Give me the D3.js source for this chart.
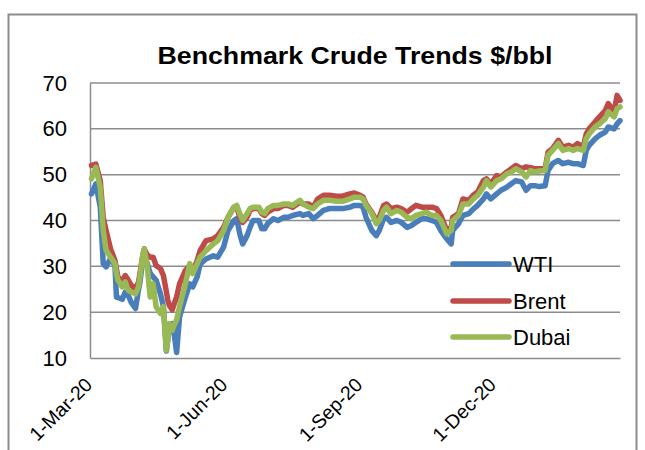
<!DOCTYPE html>
<html>
<head>
<meta charset="utf-8">
<script src="https://cdn.jsdelivr.net/npm/d3@7"></script>
<style>
  html, body { margin: 0; padding: 0; background: #fff; }
  svg { display: block; font-family: "Liberation Sans", Arial, sans-serif; }
</style>
</head>
<body>
<svg id="chart" width="645" height="450"></svg>
<script>
const dates = [
  "2020-03-02","2020-03-05","2020-03-08","2020-03-10","2020-03-12","2020-03-15","2020-03-18","2020-03-19","2020-03-20","2020-03-23",
  "2020-03-25","2020-03-27","2020-03-29","2020-04-01","2020-04-03","2020-04-04","2020-04-06","2020-04-07","2020-04-09","2020-04-11",
  "2020-04-13","2020-04-15","2020-04-18","2020-04-20","2020-04-22","2020-04-23","2020-04-24","2020-04-26","2020-04-27","2020-04-29",
  "2020-05-01","2020-05-05","2020-05-08","2020-05-10","2020-05-13","2020-05-15","2020-05-19","2020-05-24","2020-05-27","2020-05-31",
  "2020-06-03","2020-06-07","2020-06-09","2020-06-11","2020-06-13","2020-06-16","2020-06-18","2020-06-20","2020-06-24","2020-06-26",
  "2020-06-28","2020-06-30","2020-07-04","2020-07-07","2020-07-11","2020-07-14","2020-07-17","2020-07-22","2020-07-24","2020-07-28",
  "2020-07-31","2020-08-03","2020-08-07","2020-08-11","2020-08-16","2020-08-20","2020-08-25","2020-08-28","2020-09-01","2020-09-03",
  "2020-09-05","2020-09-09","2020-09-12","2020-09-14","2020-09-17","2020-09-19","2020-09-22","2020-09-26","2020-09-29","2020-10-03",
  "2020-10-06","2020-10-09","2020-10-13","2020-10-16","2020-10-20","2020-10-23","2020-10-26","2020-10-30","2020-11-02","2020-11-03",
  "2020-11-07","2020-11-10","2020-11-14","2020-11-17","2020-11-20","2020-11-24","2020-11-26","2020-11-29","2020-12-03","2020-12-06",
  "2020-12-10","2020-12-13","2020-12-16","2020-12-20","2020-12-23","2020-12-26","2020-12-29","2021-01-01","2021-01-05","2021-01-07",
  "2021-01-10","2021-01-14","2021-01-17","2021-01-21","2021-01-24","2021-01-27","2021-01-31","2021-02-02","2021-02-04","2021-02-08",
  "2021-02-11","2021-02-15","2021-02-17","2021-02-21","2021-02-23","2021-02-25"
];
const wti = [
  45.8,48.0,42.9,30.6,29.9,31.7,30.2,23.3,23.2,22.8,
  24.4,23.7,22.2,20.8,24.8,26.5,31.5,32.5,30.6,28.5,
  27.7,27.0,24.0,21.2,11.5,14.0,16.8,17.5,16.0,11.2,
  19.0,23.3,26.2,25.5,27.7,30.5,31.6,32.3,32.0,34.2,
  37.8,40.0,40.4,37.1,34.9,36.7,38.5,40.0,40.0,38.2,
  38.2,39.3,40.4,40.0,40.7,40.7,41.1,41.5,41.1,41.5,
  40.4,41.1,42.2,42.6,42.6,42.6,42.9,43.3,43.3,42.9,
  40.7,37.8,36.7,37.8,40.4,40.7,39.6,40.0,39.6,38.5,
  38.9,39.6,40.4,40.4,40.0,39.6,37.8,36.0,34.9,37.8,
  39.3,41.1,41.5,42.5,43.3,44.7,45.8,44.7,45.8,46.6,
  47.3,48.0,48.7,48.4,46.6,47.6,47.6,47.4,47.6,50.9,
  52.4,53.1,52.4,52.7,52.4,52.4,52.0,55.3,56.4,57.8,
  58.6,59.3,60.4,60.0,61.1,61.8
];
const brent = [
  52.0,52.3,48.7,40.7,37.8,33.8,31.3,29.5,27.7,26.6,
  28.0,27.0,25.9,25.1,26.5,28.4,32.5,33.8,32.5,32.0,
  32.0,30.2,29.5,28.0,24.5,22.6,21.5,20.5,21.5,23.3,
  26.2,29.1,30.2,28.8,31.3,33.4,35.6,36.0,36.7,38.5,
  40.7,42.9,42.9,40.7,39.6,40.7,42.2,42.6,42.6,41.5,
  41.1,41.8,42.6,42.6,43.3,43.3,42.9,44.0,43.6,43.6,
  42.9,44.7,45.5,45.5,45.3,45.3,45.8,46.0,45.5,45.1,
  43.6,41.8,40.0,40.7,43.3,43.6,42.6,42.9,42.6,41.8,
  42.6,43.3,42.9,42.9,42.9,42.6,41.1,37.8,38.5,40.7,
  41.5,44.7,44.4,45.5,46.2,48.7,49.1,48.0,49.8,49.5,
  50.6,51.3,52.0,51.3,51.7,51.5,51.3,51.3,51.3,54.9,
  55.7,57.5,56.0,56.4,56.0,56.8,56.0,58.9,60.0,61.5,
  62.6,64.0,65.5,63.7,67.3,66.2
];
const dubai = [
  49.1,51.6,47.2,37.8,33.5,32.0,30.6,28.5,27.0,25.5,
  26.6,24.8,24.4,24.0,25.5,27.7,32.5,33.8,29.9,23.3,
  26.2,21.2,19.7,21.2,11.7,14.0,17.5,16.0,17.0,18.3,
  21.2,26.2,30.6,28.4,30.6,32.0,33.4,34.9,35.6,37.8,
  40.7,42.9,43.3,41.5,40.0,41.5,42.6,42.9,42.9,41.8,
  41.5,42.6,43.3,43.3,43.6,43.6,43.3,44.4,43.6,42.9,
  42.6,43.6,44.4,44.4,44.2,44.2,44.7,45.1,45.1,44.7,
  43.3,41.5,39.3,40.0,42.2,42.9,41.5,42.2,41.8,40.7,
  40.4,41.1,41.5,41.8,41.1,41.1,40.0,37.1,37.8,40.0,
  41.1,43.6,43.6,44.7,45.5,47.3,48.7,47.3,48.7,49.1,
  50.2,50.6,51.3,50.6,49.5,50.9,50.6,50.8,50.9,54.2,
  55.3,56.8,55.3,55.7,55.3,55.7,55.3,57.8,58.9,60.4,
  61.1,62.2,63.7,62.6,64.4,64.8
];
const seriesNames = ["WTI", "Brent", "Dubai"];
const seriesColors = ["#4A7EBB", "#BE4B48", "#98B954"];
const yTicks = [10, 20, 30, 40, 50, 60, 70];
const xTickDates = ["2020-03-01", "2020-06-01", "2020-09-01", "2020-12-01"];
const titleText = "Benchmark Crude Trends $/bbl";

const parse = d3.timeParse("%Y-%m-%d");
const fmt = d3.timeFormat("%-d-%b-%y");
const svg = d3.select("#chart");

const plot = { left: 90, right: 620, top: 83, bottom: 358 };
const x = d3.scaleTime()
  .domain([parse("2020-03-01"), parse("2021-02-25")])
  .range([plot.left, plot.right]);
const y = d3.scaleLinear().domain([10, 70]).range([plot.bottom, plot.top]);

// outer frame
svg.append("rect").attr("x", 8.5).attr("y", 14.5).attr("width", 628).attr("height", 450)
  .attr("fill", "none").attr("stroke", "#8c8c8c").attr("stroke-width", 2);

// title
svg.append("text").attr("x", 355).attr("y", 64).attr("text-anchor", "middle")
  .attr("font-weight", "bold").attr("font-size", 24).attr("fill", "#000")
  .attr("textLength", 395).attr("lengthAdjust", "spacingAndGlyphs").text(titleText);

// gridlines
svg.append("g").selectAll("line").data(yTicks.slice(1)).join("line")
  .attr("x1", plot.left).attr("x2", plot.right)
  .attr("y1", d => y(d)).attr("y2", d => y(d))
  .attr("stroke", "#8c8c8c").attr("stroke-width", 1.5);

// y axis
const yAxis = d3.axisLeft(y).tickValues(yTicks).tickSize(0).tickPadding(23);
const gy = svg.append("g").attr("transform", `translate(${plot.left},0)`).call(yAxis);
gy.select(".domain").attr("stroke", "#8c8c8c").attr("stroke-width", 1.5);
gy.selectAll("text").attr("font-size", 22).attr("fill", "#000")
  .attr("font-family", "Liberation Sans, Arial, sans-serif");

// x axis
const xAxis = d3.axisBottom(x).tickValues(xTickDates.map(parse)).tickFormat(fmt).tickSize(0);
const gx = svg.append("g").attr("transform", `translate(0,${plot.bottom})`).call(xAxis);
gx.select(".domain").attr("stroke", "#8c8c8c").attr("stroke-width", 1.5);
gx.selectAll("text").attr("font-size", 19.5).attr("fill", "#000")
  .attr("font-family", "Liberation Sans, Arial, sans-serif")
  .attr("text-anchor", "end").attr("dy", 0).attr("y", 0)
  .attr("transform", "translate(3,28) rotate(-45)");

// lines
const allSeries = [wti, brent, dubai];
const line = d3.line().x(d => x(d.date)).y(d => y(d.v)).curve(d3.curveLinear);
const gl = svg.append("g");
allSeries.forEach((vals, i) => {
  const pts = dates.map((d, j) => ({ date: parse(d), v: vals[j] }));
  gl.append("path").datum(pts).attr("d", line)
    .attr("fill", "none").attr("stroke", seriesColors[i]).attr("stroke-width", 5.5)
    .attr("stroke-linejoin", "round").attr("stroke-linecap", "round");
});

// legend
const legY = [264, 301, 337];
const lg = svg.append("g");
seriesNames.forEach((n, i) => {
  lg.append("line").attr("x1", 453).attr("x2", 509).attr("y1", legY[i]).attr("y2", legY[i])
    .attr("stroke", seriesColors[i]).attr("stroke-width", 5.5).attr("stroke-linecap", "round");
  lg.append("text").attr("x", 513).attr("y", legY[i] + 8).attr("font-size", 22).attr("fill", "#000").text(n);
});
</script>
</body>
</html>
